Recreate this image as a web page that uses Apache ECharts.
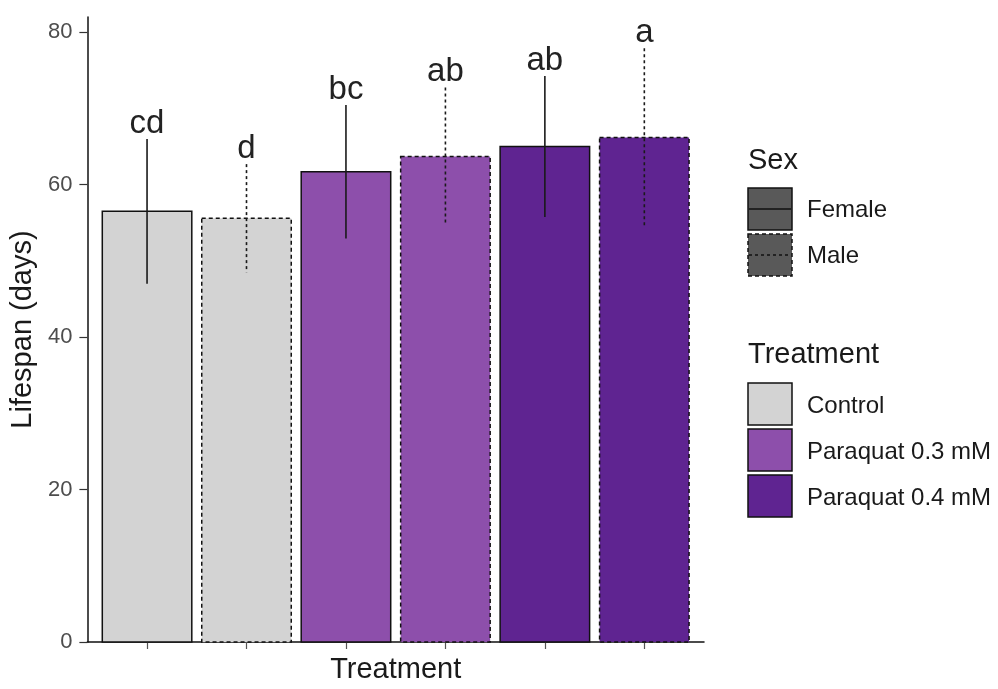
<!DOCTYPE html>
<html>
<head>
<meta charset="utf-8">
<title>Lifespan by treatment and sex</title>
<script src="https://cdn.jsdelivr.net/npm/echarts@6/dist/echarts.min.js"></script>
<style>
  html, body { margin: 0; padding: 0; background: #fff; }
  #chart { width: 998px; height: 689px; }
</style>
</head>
<body>
<div id="chart"></div>
<script>
// Groups along the x axis (one bar per treatment × sex)
const treatments = ['Control', 'Control', 'Paraquat 0.3 mM', 'Paraquat 0.3 mM', 'Paraquat 0.4 mM', 'Paraquat 0.4 mM'];
const sexes = ['Female', 'Male', 'Female', 'Male', 'Female', 'Male'];
// Mean lifespan (days) and its spread
const meanLifespan = [56.5, 55.6, 61.7, 63.7, 65.0, 66.2];
const spread = [9.5, 7.1, 8.75, 9.05, 9.25, 11.7];
// Significance letters above each bar
const groupLetters = ['cd', 'd', 'bc', 'ab', 'ab', 'a'];
// Axis ticks
const yTicks = [0, 20, 40, 60, 80];
const xTicks = [1, 2, 3, 4, 5, 6];

const treatmentNames = ['Control', 'Paraquat 0.3 mM', 'Paraquat 0.4 mM'];
const treatmentColors = { 'Control': '#D3D3D3', 'Paraquat 0.3 mM': '#8D4FAB', 'Paraquat 0.4 mM': '#5F2491' };
const sexDash = { 'Female': null, 'Male': [4, 3] };

const FONT = '"Liberation Sans", Arial, sans-serif';

const rows = meanLifespan.map((m, i) => [i + 1, m, spread[i], i]);

const chart = echarts.init(document.getElementById('chart'), null, { renderer: 'canvas' });

function renderBar(params, api) {
  const x = api.value(0);
  const m = api.value(1);
  const sd = api.value(2);
  const idx = api.value(3);
  const half = 0.45;
  const p0 = api.coord([x - half, 0]);
  const p1 = api.coord([x + half, m]);
  const eTop = api.coord([x, m + sd]);
  const eBot = api.coord([x, m - sd]);
  const dash = sexDash[sexes[idx]];
  return {
    type: 'group',
    children: [
      {
        type: 'rect',
        shape: { x: p0[0], y: p1[1], width: p1[0] - p0[0], height: p0[1] - p1[1] },
        style: {
          fill: treatmentColors[treatments[idx]],
          stroke: '#111',
          lineWidth: 1.5,
          lineDash: dash
        }
      },
      {
        type: 'line',
        shape: { x1: eTop[0], y1: eTop[1], x2: eBot[0], y2: eBot[1] },
        style: { stroke: '#1a1a1a', lineWidth: 1.6, lineDash: dash ? [3, 3] : null }
      },
      {
        type: 'text',
        style: {
          x: eTop[0],
          y: eTop[1] + 1,
          text: groupLetters[idx],
          fill: '#222',
          font: '33px ' + FONT,
          align: 'center',
          verticalAlign: 'bottom'
        }
      }
    ]
  };
}

// Legend built from the same category lists
const legendX = 748;
const keyW = 44, keyH = 42;
const legendItems = [];
legendItems.push({ type: 'text', left: legendX, top: 146, style: { text: 'Sex', font: '29px ' + FONT, fill: '#1a1a1a' } });
const sexKeys = ['Female', 'Male'];
sexKeys.forEach((s, i) => {
  const y = 188 + i * 46;
  legendItems.push({
    type: 'rect', shape: { x: legendX, y: y, width: keyW, height: keyH },
    style: { fill: '#595959', stroke: '#111', lineWidth: 1.5, lineDash: sexDash[s] }
  });
  legendItems.push({
    type: 'line', shape: { x1: legendX + 1, y1: y + keyH / 2, x2: legendX + keyW - 1, y2: y + keyH / 2 },
    style: { stroke: '#111', lineWidth: 1.5, lineDash: sexDash[s] ? [3, 3] : null }
  });
  legendItems.push({
    type: 'text', x: 807, y: y + keyH / 2 + 1,
    style: { text: s, font: '24px ' + FONT, fill: '#1a1a1a', verticalAlign: 'middle' }
  });
});
legendItems.push({ type: 'text', left: legendX, top: 340, style: { text: 'Treatment', font: '29px ' + FONT, fill: '#1a1a1a' } });
treatmentNames.forEach((t, i) => {
  const y = 383 + i * 46;
  legendItems.push({
    type: 'rect', shape: { x: legendX, y: y, width: keyW, height: keyH },
    style: { fill: treatmentColors[t], stroke: '#111', lineWidth: 1.5 }
  });
  legendItems.push({
    type: 'text', x: 807, y: y + keyH / 2 + 2,
    style: { text: t, font: '24px ' + FONT, fill: '#1a1a1a', verticalAlign: 'middle' }
  });
});

chart.setOption({
  animation: false,
  backgroundColor: '#ffffff',
  grid: { left: 87, right: 294, top: 17, bottom: 46, containLabel: false },
  xAxis: {
    type: 'value',
    min: 0.4,
    max: 6.6,
    name: 'Treatment',
    nameLocation: 'middle',
    nameGap: 13,
    nameTextStyle: { fontFamily: FONT, fontSize: 29, color: '#1a1a1a', verticalAlign: 'top' },
    axisLine: { show: true, onZero: false, lineStyle: { color: '#111', width: 1.5 } },
    axisTick: { show: true, length: 7, customValues: xTicks, lineStyle: { color: '#555', width: 1.2 } },
    axisLabel: { show: false },
    splitLine: { show: false }
  },
  yAxis: {
    type: 'value',
    min: 0,
    max: 82,
    name: 'Lifespan (days)',
    nameLocation: 'middle',
    nameRotate: 90,
    nameGap: 50,
    nameTextStyle: { fontFamily: FONT, fontSize: 29, color: '#1a1a1a' },
    axisLine: { show: true, lineStyle: { color: '#111', width: 1.5 } },
    axisTick: { show: true, length: 8, customValues: yTicks, lineStyle: { color: '#333', width: 1.2 } },
    axisLabel: { customValues: yTicks, fontFamily: FONT, fontSize: 22, color: '#4d4d4d', margin: 15 },
    splitLine: { show: false }
  },
  series: [{
    type: 'custom',
    renderItem: renderBar,
    data: rows,
    encode: { x: 0, y: 1 },
    clip: false
  }],
  graphic: legendItems
});
</script>
</body>
</html>
